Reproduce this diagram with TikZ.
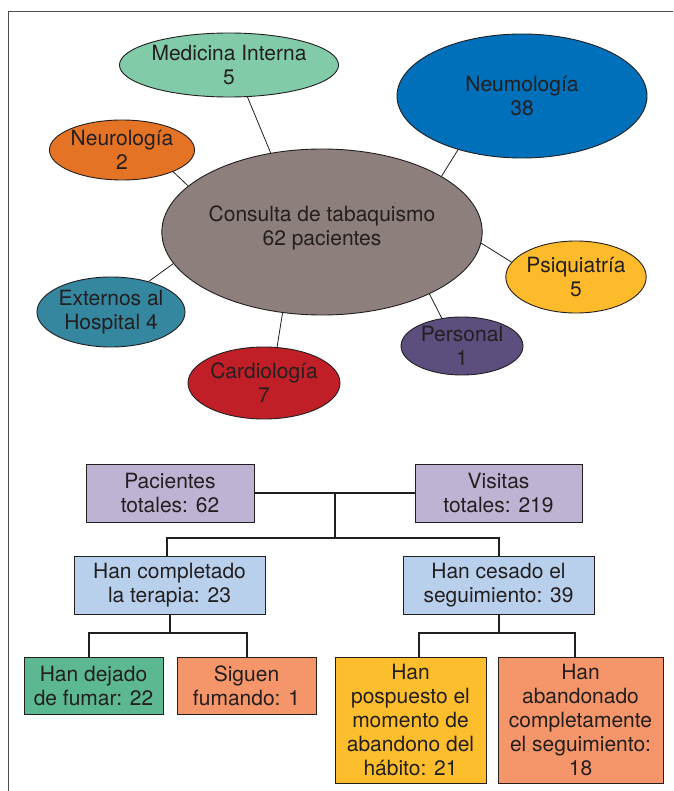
\documentclass[tikz,border=0pt]{standalone}
\usepackage{fontspec}
\setmainfont{TeX Gyre Heros}
\usetikzlibrary{shapes.geometric}
\definecolor{ink}{HTML}{231F20}
\definecolor{cmed}{HTML}{82CBA9}
\definecolor{cneumo}{HTML}{0070BA}
\definecolor{cneuro}{HTML}{E57325}
\definecolor{ccons}{HTML}{8D7F7B}
\definecolor{cpsiq}{HTML}{FDBB2B}
\definecolor{cpers}{HTML}{5C4F7E}
\definecolor{ccardio}{HTML}{C01F27}
\definecolor{cext}{HTML}{35879F}
\definecolor{clav}{HTML}{BFB3D4}
\definecolor{cblue}{HTML}{B9D0EC}
\definecolor{cgreen}{HTML}{5CB891}
\definecolor{csalmon}{HTML}{F5956A}
\definecolor{cyellow}{HTML}{FDBE2E}
\begin{document}
\begin{tikzpicture}[x=1pt,y=-1pt,
  every node/.style={font=\fontsize{21}{24}\selectfont, text=ink, align=center},
  ell/.style={ellipse, draw=ink, line width=0.9pt, inner sep=0pt},
  box/.style={rectangle, draw=ink, line width=1pt, inner sep=0pt},
  spoke/.style={draw=ink, line width=0.8pt},
  tree/.style={draw=ink, line width=2pt},
  frameline/.style={draw=ink!80, line width=1pt}]
\useasboundingbox (0,0) rectangle (673,791);
\draw[frameline] (8.5,791) -- (8.5,12) -- (673,12);

% ellipses
\node[ell, fill=cmed, minimum width=177pt, minimum height=64pt] (med) at (229,65) {Medicina Interna\\5};
\node[ell, fill=cneumo, minimum width=250pt, minimum height=124pt] (neumo) at (522,96) {Neumología\\38};
\node[ell, fill=cneuro, minimum width=133pt, minimum height=60pt] (neuro) at (122,150) {Neurología\\2};
\node[ell, fill=ccons, minimum width=314pt, minimum height=166pt, text depth=12pt] (cons) at (322,232) {Consulta de tabaquismo\\62 pacientes};
\node[ell, fill=cpsiq, minimum width=126pt, minimum height=72pt] (psiq) at (576,277) {Psiquiatría\\5};
\node[ell, fill=cpers, minimum width=122pt, minimum height=58pt] (pers) at (462,346) {Personal\\1};
\node[ell, fill=ccardio, minimum width=152pt, minimum height=72pt] (cardio) at (264,383) {Cardiología\\7};
\node[ell, fill=cext, minimum width=142pt, minimum height=70pt] (ext) at (111,312) {Externos al\\Hospital 4};

% spokes
\draw[spoke] (med.-60) -- (cons.123);
\draw[spoke] (neumo.-140) -- (cons.25);
\draw[spoke] (neuro.-23) -- (cons.161);
\draw[spoke] (ext.39) -- (cons.-168);
\draw[spoke] (cardio.70) -- (cons.-116);
\draw[spoke] (pers.126) -- (cons.-30);
\draw[spoke] (psiq.167) -- (cons.-4);

% boxes
\node[box, fill=clav, minimum width=168pt, minimum height=58pt] (pac) at (170,493) {Pacientes\\totales: 62};
\node[box, fill=clav, minimum width=167pt, minimum height=58pt] (vis) at (498.5,493) {Visitas\\totales: 219};
\node[box, fill=cblue, minimum width=191pt, minimum height=58pt] (hc) at (169.5,585) {Han completado\\la terapia: 23};
\node[box, fill=cblue, minimum width=191pt, minimum height=58pt] (hces) at (498.5,585) {Han cesado el\\seguimiento: 39};
\node[box, fill=cgreen, minimum width=139pt, minimum height=57pt] (hd) at (93.5,685.5) {Han dejado\\de fumar: 22};
\node[box, fill=csalmon, minimum width=139pt, minimum height=57pt] (sig) at (246.5,685.5) {Siguen\\fumando: 1};
\node[box, fill=cyellow, minimum width=151pt, minimum height=126pt] (pos) at (410.5,720) {Han\\pospuesto el\\momento de\\abandono del\\hábito: 21};
\node[box, fill=csalmon, minimum width=165pt, minimum height=126pt] (ab) at (580.5,720) {Han\\abandonado\\completamente\\el seguimiento:\\18};

% tree connectors
\draw[tree] (pac.east) -- (vis.west);
\path (pac.east) -- coordinate[midway] (j1) (vis.west);
\draw[tree] (j1) -- ++(0,45) coordinate (j2);
\draw[tree] ([xshift=-2.5pt]hc.north) |- (j2) -| (hces.north);
\draw[tree] (hc.south) -- ++(0,18) coordinate (j3);
\draw[tree] ([xshift=-4.5pt]hd.north) |- (j3) -| (sig.north);
\draw[tree] (hces.south) -- ++(0,18) coordinate (j4);
\draw[tree] ([xshift=8.5pt]pos.north) |- (j4) -| ([xshift=-5.5pt]ab.north);
\end{tikzpicture}
\end{document}
